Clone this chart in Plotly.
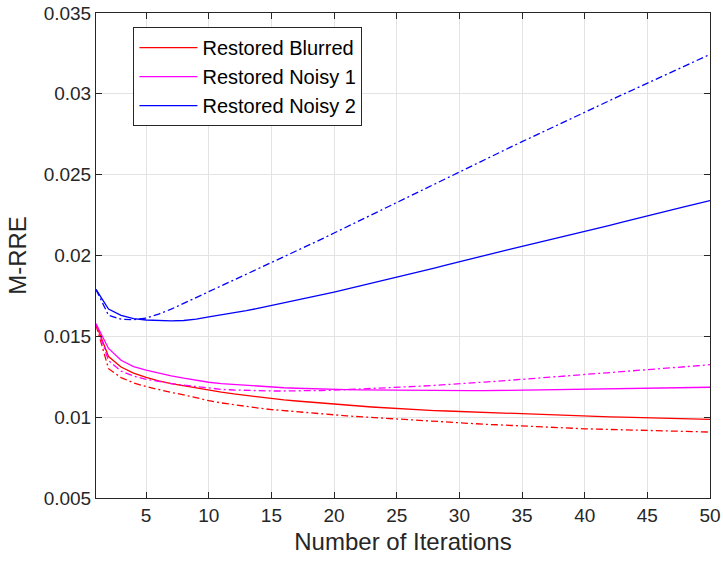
import plotly.graph_objects as go

iterations = list(range(1, 51))

blurred_solid = [0.01575, 0.01375, 0.01310, 0.01273, 0.01246, 0.01224, 0.01208, 0.01194, 0.01180, 0.01167,
                 0.01155, 0.01144, 0.01134, 0.01124, 0.01115, 0.01107, 0.01100, 0.01093, 0.01087, 0.01081,
                 0.01075, 0.01069, 0.01063, 0.01058, 0.01053, 0.01049, 0.01045, 0.01041, 0.01038, 0.01035,
                 0.01031, 0.01028, 0.01025, 0.01022, 0.01019, 0.01016, 0.01013, 0.01011, 0.01008, 0.01006,
                 0.01004, 0.01002, 0.01000, 0.00998, 0.00996, 0.00994, 0.00992, 0.00990, 0.00988, 0.00986]

blurred_dashdot = [0.01570, 0.01300, 0.01245, 0.01212, 0.01189, 0.01170, 0.01153, 0.01138, 0.01118, 0.01102,
                   0.01088, 0.01076, 0.01065, 0.01056, 0.01047, 0.01040, 0.01033, 0.01026, 0.01020, 0.01013,
                   0.01008, 0.01003, 0.00998, 0.00993, 0.00988, 0.00983, 0.00978, 0.00973, 0.00968, 0.00963,
                   0.00960, 0.00956, 0.00953, 0.00949, 0.00946, 0.00942, 0.00939, 0.00935, 0.00932, 0.00928,
                   0.00926, 0.00924, 0.00922, 0.00920, 0.00918, 0.00916, 0.00914, 0.00912, 0.00910, 0.00908]

noisy1_solid = [0.01578, 0.01425, 0.01352, 0.01313, 0.01291, 0.01272, 0.01256, 0.01241, 0.01228, 0.01216,
                0.01208, 0.01202, 0.01196, 0.01190, 0.01186, 0.01182, 0.01179, 0.01176, 0.01173, 0.01171,
                0.01170, 0.01169, 0.01168, 0.01167, 0.01166, 0.01165, 0.01164, 0.01164, 0.01163, 0.01163,
                0.01164, 0.01164, 0.01165, 0.01165, 0.01166, 0.01167, 0.01168, 0.01169, 0.01170, 0.01171,
                0.01172, 0.01173, 0.01175, 0.01176, 0.01177, 0.01179, 0.01180, 0.01182, 0.01183, 0.01185]

noisy1_dashdot = [0.01578, 0.01350, 0.01285, 0.01254, 0.01234, 0.01220, 0.01208, 0.01198, 0.01188, 0.01178,
                  0.01172, 0.01168, 0.01165, 0.01163, 0.01162, 0.01162, 0.01162, 0.01163, 0.01165, 0.01167,
                  0.01170, 0.01173, 0.01176, 0.01180, 0.01184, 0.01188, 0.01192, 0.01197, 0.01201, 0.01206,
                  0.01211, 0.01217, 0.01222, 0.01228, 0.01233, 0.01239, 0.01245, 0.01251, 0.01257, 0.01263,
                  0.01268, 0.01273, 0.01279, 0.01284, 0.01290, 0.01297, 0.01304, 0.01311, 0.01318, 0.01325]

noisy2_solid = [0.01790, 0.01669, 0.01630, 0.01610, 0.01601, 0.01597, 0.01596, 0.01598, 0.01606, 0.01620,
                0.01632, 0.01645, 0.01659, 0.01674, 0.01690, 0.01706, 0.01722, 0.01739, 0.01756, 0.01774,
                0.01792, 0.01810, 0.01828, 0.01846, 0.01864, 0.01883, 0.01902, 0.01922, 0.01942, 0.01962,
                0.01981, 0.02000, 0.02019, 0.02038, 0.02057, 0.02075, 0.02093, 0.02111, 0.02129, 0.02148,
                0.02167, 0.02187, 0.02206, 0.02226, 0.02245, 0.02264, 0.02283, 0.02302, 0.02321, 0.02340]

noisy2_dashdot = [0.01790, 0.01630, 0.01606, 0.01603, 0.01613, 0.01638, 0.01668, 0.01704, 0.01741, 0.01778,
                  0.01813, 0.01848, 0.01883, 0.01918, 0.01953, 0.01990, 0.02027, 0.02064, 0.02101, 0.02139,
                  0.02177, 0.02215, 0.02253, 0.02291, 0.02330, 0.02368, 0.02405, 0.02442, 0.02480, 0.02518,
                  0.02555, 0.02592, 0.02630, 0.02667, 0.02704, 0.02741, 0.02778, 0.02815, 0.02852, 0.02888,
                  0.02924, 0.02959, 0.02995, 0.03030, 0.03066, 0.03101, 0.03137, 0.03172, 0.03208, 0.03244]

series_names = ["Restored Blurred", "Restored Noisy 1", "Restored Noisy 2"]
series_colors = ["#ff0000", "#ff00ff", "#0000ff"]
solid_data = [blurred_solid, noisy1_solid, noisy2_solid]
dashdot_data = [blurred_dashdot, noisy1_dashdot, noisy2_dashdot]

x_tick_vals = [5, 10, 15, 20, 25, 30, 35, 40, 45, 50]
y_tick_vals = [0.005, 0.01, 0.015, 0.02, 0.025, 0.03, 0.035]
y_tick_text = ["0.005", "0.01", "0.015", "0.02", "0.025", "0.03", "0.035"]

fig = go.Figure()
for name, color, ys in zip(series_names, series_colors, solid_data):
    fig.add_trace(go.Scatter(x=iterations, y=ys, mode="lines", name=name,
                             line=dict(color=color, width=1.3)))
for name, color, ys in zip(series_names, series_colors, dashdot_data):
    fig.add_trace(go.Scatter(x=iterations, y=ys, mode="lines", name=name + " (dash-dot)",
                             showlegend=False,
                             line=dict(color=color, width=1.3, dash="7px,3px,2px,3px")))

axis_color = "#262626"
grid_color = "#e3e3e3"
font_family = "Arial, Liberation Sans, sans-serif"

fig.update_layout(
    width=723, height=563,
    margin=dict(l=96, r=13, t=13, b=65),
    paper_bgcolor="white", plot_bgcolor="white",
    font=dict(family=font_family, color=axis_color, size=19),
    showlegend=True,
    legend=dict(
        x=0.061, y=0.971, xanchor="left", yanchor="top",
        bgcolor="white", bordercolor=axis_color, borderwidth=1,
        font=dict(size=20, color="#000000"),
        itemwidth=58, tracegroupgap=0,
    ),
    xaxis=dict(
        range=[1, 50], tickvals=x_tick_vals, automargin=False,
        showgrid=True, gridcolor=grid_color, gridwidth=1,
        showline=True, linecolor=axis_color, linewidth=1, mirror="ticks",
        ticks="inside", ticklen=6, tickcolor=axis_color,
        tickfont=dict(size=19), zeroline=False,
        title=dict(text="Number of Iterations", font=dict(size=24), standoff=8),
    ),
    yaxis=dict(
        range=[0.005, 0.035], tickvals=y_tick_vals, ticktext=y_tick_text, automargin=False,
        showgrid=True, gridcolor=grid_color, gridwidth=1,
        showline=True, linecolor=axis_color, linewidth=1, mirror="ticks",
        ticks="inside", ticklen=6, tickcolor=axis_color,
        tickfont=dict(size=19), zeroline=False,
        title=dict(text="M-RRE", font=dict(size=24), standoff=10),
    ),
)

fig.write_html("out.html", config={"displayModeBar": False},
               post_script="document.body.style.margin='0';")
